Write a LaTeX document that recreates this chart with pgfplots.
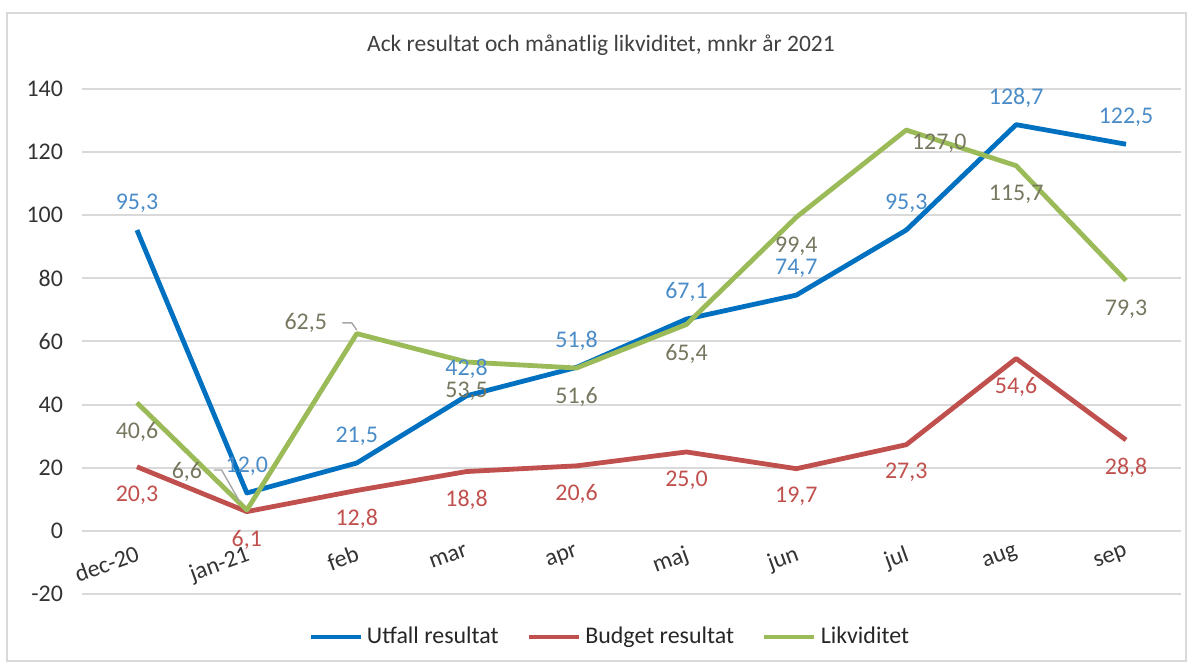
\documentclass[border=0pt]{standalone}
\usepackage{pgfplots}
\pgfplotsset{compat=1.18}
\usepackage{fontspec}
\setmainfont{Carlito}
\definecolor{cBlue}{HTML}{0070C0}
\definecolor{cRed}{HTML}{C0504D}
\definecolor{cGreen}{HTML}{9BBB59}
\definecolor{lBlue}{HTML}{4A8CC8}
\definecolor{lRed}{HTML}{C0504D}
\definecolor{lGreen}{HTML}{77775F}
\definecolor{gridC}{HTML}{D9D9D9}
\definecolor{frameC}{HTML}{D9D9D9}
\definecolor{textC}{HTML}{404040}
\pgfplotsset{
  vlabels/.style={
    nodes near coords={\pgfmathprintnumber[fixed,fixed zerofill,precision=1,use comma,assume math mode=true]{\pgfplotspointmeta}},
    every node near coord/.append style={font=\fontsize{12}{14}\selectfont, anchor=center, #1}},
}
\begin{document}
\begin{tikzpicture}
\path[use as bounding box] (0bp,0bp) rectangle (597bp,333.5bp);
\draw[frameC, line width=0.8bp] (3.5bp,3bp) rectangle (593bp,327bp);
\node[font=\fontsize{11.8}{14}\selectfont, text=textC] at (300.5bp,311bp) {Ack resultat och månatlig likviditet, mnkr år 2021};
\begin{axis}[
  at={(41bp,36.5bp)}, anchor=south west,
  scale only axis, width=549.5bp, height=252.5bp,
  xmin=-0.5, xmax=9.5, ymin=-20, ymax=140,
  xtick={0,...,9},
  xticklabels={dec-20,jan-21,feb,mar,apr,maj,jun,jul,aug,sep},
  ytick={-20,0,20,40,60,80,100,120,140},
  ymajorgrids, grid style={gridC, line width=1bp},
  axis line style={draw=none},
  major tick length=0pt,
  /pgf/number format/assume math mode=true,
  ticklabel style={font=\fontsize{12}{14}\selectfont, text=black!80},
  yticklabel style={xshift=-6bp},
  xticklabel style={rotate=20, anchor=north east, yshift=27bp, xshift=11bp},
  legend style={at={(0.481,-0.085)}, anchor=center, draw=none, fill=none,
    legend columns=3, font=\fontsize{12}{14}\selectfont, text=black!85,
    /tikz/every even column/.append style={column sep=12bp},
    inner sep=0pt},
  legend cell align=left,
  legend image code/.code={\draw[#1, line width=2.4bp] (0bp,0bp) -- (25bp,0bp);},
  every axis plot/.append style={line width=2.4bp, line join=round, mark=none},
]
% Utfall resultat
\addplot[cBlue, vlabels={text=lBlue, yshift=13.5bp}] coordinates {
(0,95.3) (1,12.0) (2,21.5) (3,42.8) (4,51.8) (5,67.1) (6,74.7) (7,95.3) (8,128.7) (9,122.5)};
\addlegendentry{Utfall resultat}
% Budget resultat
\addplot[cRed, vlabels={text=lRed, yshift=-14bp}] coordinates {
(0,20.3) (1,6.1) (2,12.8) (3,18.8) (4,20.6) (5,25.0) (6,19.7) (7,27.3) (8,54.6) (9,28.8)};
\addlegendentry{Budget resultat}
% Likviditet
\addplot[cGreen] coordinates {
(0,40.6) (1,6.6) (2,62.5) (3,53.5) (4,51.6) (5,65.4) (6,99.4) (7,127.0) (8,115.7) (9,79.3)};
\addlegendentry{Likviditet}
% Likviditet labels
\addplot[draw=none, forget plot, vlabels={text=lGreen, yshift=-14.5bp}] coordinates {
(0,40.6) (3,53.5) (4,51.6) (5,65.4) (6,99.4) (8,115.7) (9,79.3)};
\addplot[draw=none, forget plot, vlabels={text=lGreen, xshift=-30bp, yshift=19bp}] coordinates {(1,6.6)};
\addplot[draw=none, forget plot, vlabels={text=lGreen, xshift=-25.5bp, yshift=5.5bp}] coordinates {(2,62.5)};
\addplot[draw=none, forget plot, vlabels={text=lGreen, xshift=16.5bp, yshift=-6.5bp}] coordinates {(7,127.0)};
\draw[gray!70, line width=0.7bp] (axis cs:0.7,19.3) -- (axis cs:0.77,19.3) -- (axis cs:0.936,9.2);
\draw[gray!70, line width=0.7bp] (axis cs:1.87,65.9) -- (axis cs:1.955,65.9) -- (axis cs:2.0,63.6);
\end{axis}
\end{tikzpicture}
\end{document}
